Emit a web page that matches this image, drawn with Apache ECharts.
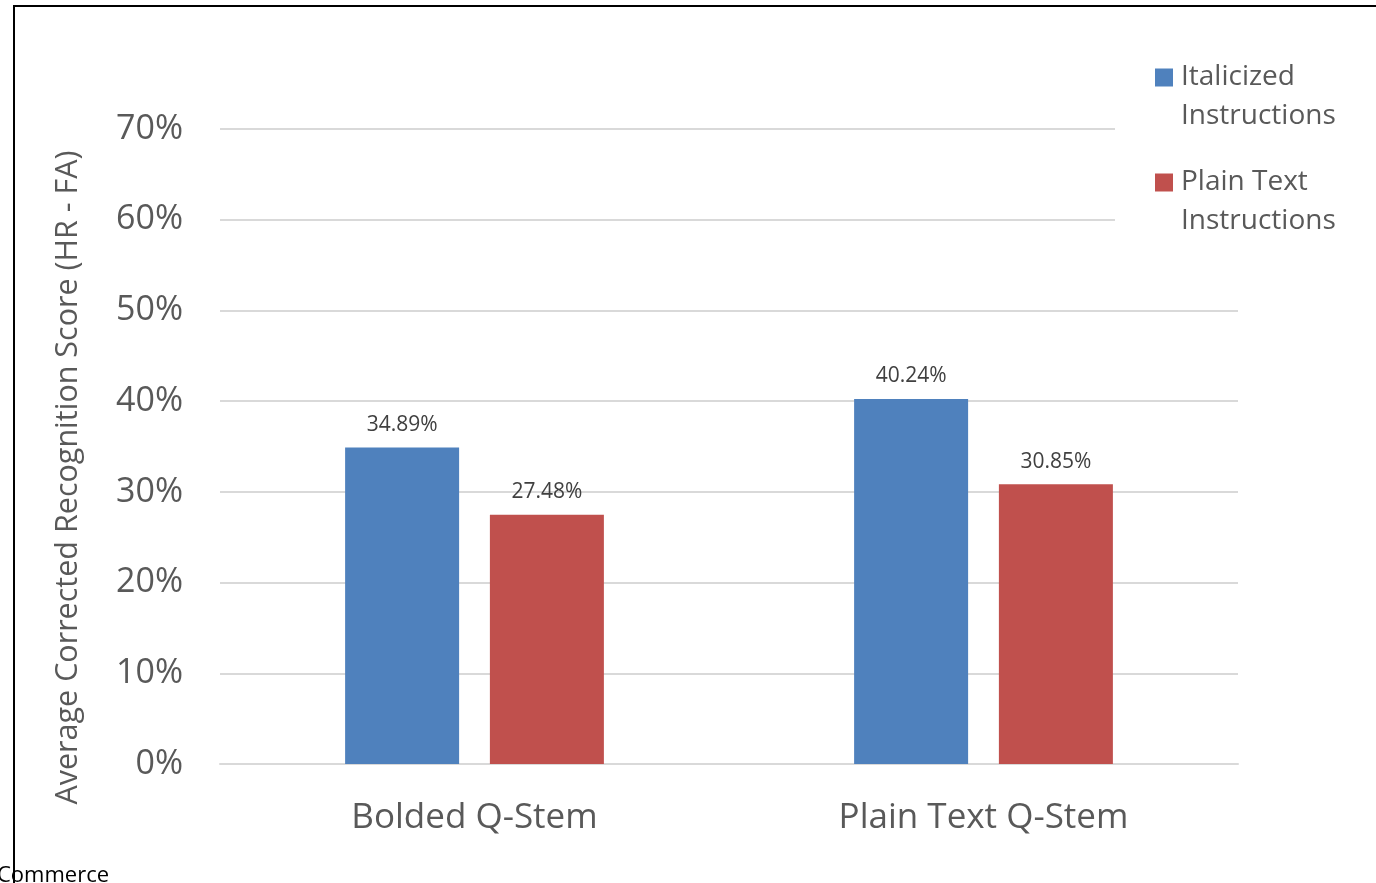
<!DOCTYPE html>
<html>
<head>
<meta charset="utf-8">
<script src="https://cdn.jsdelivr.net/npm/echarts@6/dist/echarts.min.js"></script>
<style>
  html, body { margin: 0; padding: 0; background: #fff; }
  #chart { width: 1376px; height: 883px; }
</style>
</head>
<body>
<div id="chart"></div>
<script>
// Question-stem format on the x axis, instruction format as the two series
const categories = ['Bolded Q-Stem', 'Plain Text Q-Stem'];
const italicizedInstructions = [34.89, 40.24];
const plainTextInstructions = [27.48, 30.85];
const seriesNames = ['Italicized Instructions', 'Plain Text Instructions'];
const legendLines = {
  'Italicized Instructions': ['Italicized', 'Instructions'],
  'Plain Text Instructions': ['Plain Text', 'Instructions']
};
const yTicks = [0, 10, 20, 30, 40, 50, 60, 70];

const FONT = '"Open Sans", "Noto Sans", sans-serif';
const chart = echarts.init(document.getElementById('chart'), null, { renderer: 'canvas' });

const barLabel = {
  show: true,
  position: 'top',
  distance: 12,
  formatter: p => p.value.toFixed(2) + '%',
  fontFamily: FONT,
  fontSize: 21,
  color: '#404040'
};

chart.setOption({
  animation: false,
  backgroundColor: '#fff',
  grid: { left: 220, right: 138, top: 129, bottom: 119, containLabel: false },
  legend: {
    data: seriesNames,
    orient: 'vertical',
    left: 1115,
    top: 19,
    padding: [0, 20, 20, 40],
    backgroundColor: '#fff',
    itemWidth: 18,
    itemHeight: 18,
    itemGap: -12,
    icon: 'rect',
    formatter: name => '\n' + legendLines[name].join('\n'),
    textStyle: {
      fontFamily: FONT, fontSize: 28, color: '#595959', lineHeight: 39,
      padding: [0, 0, 0, 3]
    }
  },
  xAxis: {
    type: 'category',
    data: categories,
    axisTick: { show: false },
    axisLine: { lineStyle: { color: '#d9d9d9', width: 2 } },
    axisLabel: { fontFamily: FONT, fontSize: 35, color: '#595959', margin: 37 }
  },
  yAxis: {
    type: 'value',
    min: 0,
    max: yTicks[yTicks.length - 1],
    interval: 10,
    name: 'Average Corrected Recognition Score (HR - FA)',
    nameLocation: 'middle',
    nameGap: 136,
    nameTextStyle: {
      fontFamily: FONT, fontSize: 30.5, color: '#595959',
      padding: [0, 62, 0, 0]
    },
    axisLine: { show: false },
    axisTick: { show: false },
    splitLine: { lineStyle: { color: '#d9d9d9', width: 2 } },
    axisLabel: {
      fontFamily: FONT, fontSize: 34, color: '#595959', margin: 37,
      formatter: v => v + '%'
    }
  },
  series: [
    {
      name: seriesNames[0],
      type: 'bar',
      data: italicizedInstructions,
      barWidth: 114,
      barGap: '27%',
      itemStyle: { color: '#4F81BD' },
      label: barLabel
    },
    {
      name: seriesNames[1],
      type: 'bar',
      data: plainTextInstructions,
      barWidth: 114,
      barGap: '27%',
      itemStyle: { color: '#C0504D' },
      label: barLabel
    }
  ],
  graphic: [
    {
      type: 'text',
      left: -3,
      top: 865,
      z: 1,
      style: { text: 'Commerce', fontFamily: FONT, fontSize: 22, fill: '#000' }
    },
    {
      type: 'rect',
      z: 10,
      silent: true,
      shape: { x: 14, y: 6, width: 1400, height: 920 },
      style: { fill: 'none', stroke: '#000', lineWidth: 2 }
    }
  ]
});
</script>
</body>
</html>
